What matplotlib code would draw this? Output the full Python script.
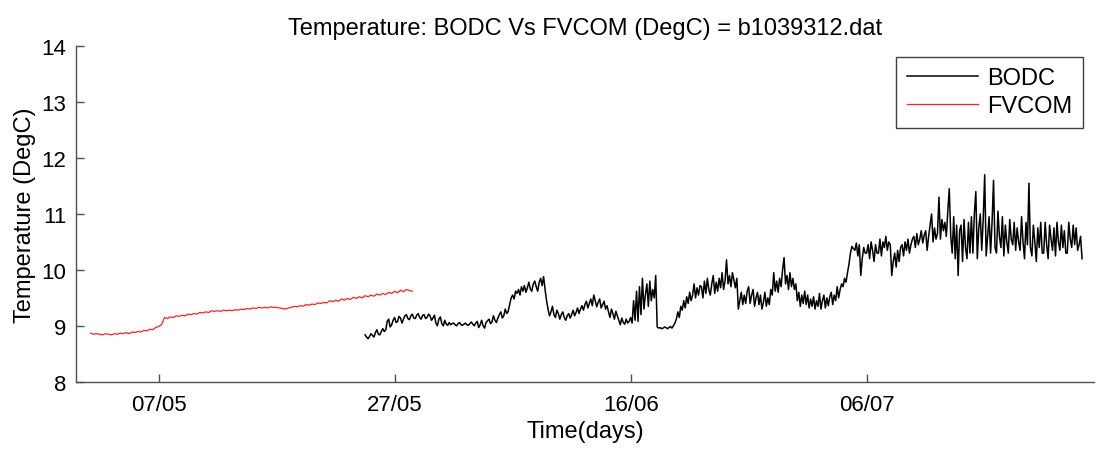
import matplotlib
matplotlib.use('Agg')
import matplotlib.pyplot as plt
import matplotlib.dates as mdates
import numpy as np
import pandas as pd

plt.rcParams['font.family'] = ['Liberation Sans', 'DejaVu Sans']

# FVCOM model temperature, 6-hourly from 01/05 06:00
fvcom_temp = [
    8.87, 8.85, 8.86,
    8.85, 8.84, 8.86, 8.85,
    8.84, 8.86, 8.85, 8.87,
    8.86, 8.88, 8.86, 8.89,
    8.88, 8.90, 8.89, 8.92,
    8.91, 8.94, 8.93, 8.97,
    8.99, 9.02, 9.15, 9.13,
    9.16, 9.15, 9.18, 9.17,
    9.19, 9.18, 9.21, 9.20,
    9.22, 9.21, 9.24, 9.23,
    9.25, 9.24, 9.27, 9.26,
    9.27, 9.26, 9.28, 9.27,
    9.28, 9.27, 9.29, 9.28,
    9.30, 9.29, 9.31, 9.30,
    9.32, 9.31, 9.33, 9.32,
    9.33, 9.32, 9.34, 9.33,
    9.33, 9.32, 9.31, 9.30,
    9.32, 9.33, 9.35, 9.34,
    9.36, 9.35, 9.38, 9.37,
    9.39, 9.38, 9.41, 9.40,
    9.42, 9.41, 9.45, 9.43,
    9.46, 9.44, 9.48, 9.46,
    9.49, 9.47, 9.51, 9.49,
    9.52, 9.50, 9.54, 9.52,
    9.55, 9.53, 9.57, 9.55,
    9.58, 9.56, 9.60, 9.58,
    9.62, 9.59, 9.64, 9.61,
    9.65, 9.63, 9.62,
]
fvcom_start = '2009-05-01 06:00'

# BODC observed temperature, 3-hourly from 24/05 12:00 (one row per day)
bodc_temp = [
    8.84, 8.80, 8.77, 8.81,
    8.86, 8.83, 8.80, 8.88, 8.93, 8.85, 8.84, 8.90,
    8.95, 8.90, 8.93, 9.08, 9.12, 8.98, 9.02, 9.10,
    9.15, 9.06, 9.08, 9.17, 9.14, 9.05, 9.12, 9.18,
    9.20, 9.13, 9.11, 9.18, 9.21, 9.14, 9.13, 9.19,
    9.22, 9.15, 9.12, 9.19, 9.20, 9.13, 9.15, 9.21,
    9.18, 9.10, 9.14, 9.19, 9.05, 9.00, 9.12, 9.16,
    9.04, 9.00, 9.10, 9.03, 9.01, 9.06, 9.02, 9.04,
    9.05, 9.02, 9.00, 9.04, 9.06, 9.02, 9.01, 9.03,
    9.05, 9.02, 9.01, 9.04, 9.07, 9.03, 9.00, 9.05,
    9.08, 8.97, 9.02, 9.10, 9.00, 8.96, 9.06, 9.09,
    9.12, 9.04, 9.07, 9.18, 9.10, 9.06, 9.14, 9.20,
    9.25, 9.14, 9.18, 9.30, 9.22, 9.26, 9.38, 9.50,
    9.55, 9.48, 9.62, 9.58, 9.65, 9.55, 9.70, 9.62,
    9.72, 9.60, 9.68, 9.78, 9.66, 9.62, 9.75, 9.80,
    9.70, 9.62, 9.78, 9.85, 9.72, 9.88, 9.65, 9.45,
    9.30, 9.18, 9.25, 9.35, 9.20, 9.15, 9.28, 9.22,
    9.12, 9.20, 9.25, 9.15, 9.10, 9.18, 9.22, 9.14,
    9.20, 9.28, 9.18, 9.24, 9.32, 9.22, 9.30, 9.36,
    9.28, 9.38, 9.44, 9.32, 9.40, 9.48, 9.36, 9.55,
    9.45, 9.34, 9.42, 9.48, 9.32, 9.38, 9.44, 9.30,
    9.36, 9.25, 9.15, 9.30, 9.22, 9.12, 9.26, 9.18,
    9.10, 9.02, 9.14, 9.06, 9.03, 9.12, 9.05, 9.08,
    9.15, 9.05, 9.45, 9.10, 9.62, 9.08, 9.70, 9.20,
    9.85, 9.30, 9.55, 9.75, 9.35, 9.80, 9.45, 9.65,
    9.50, 9.90, 8.98, 8.96, 8.97, 8.95, 8.96, 8.98,
    8.97, 8.95, 8.97, 8.99, 8.96, 9.00, 9.05, 9.12,
    9.25, 9.15, 9.35, 9.28, 9.45, 9.32, 9.52, 9.40,
    9.60, 9.45, 9.55, 9.75, 9.50, 9.68, 9.55, 9.72,
    9.70, 9.50, 9.80, 9.58, 9.85, 9.65, 9.55, 9.75,
    9.90, 9.58, 9.78, 9.62, 9.85, 9.68, 9.95, 9.65,
    9.80, 10.18, 9.75, 9.90, 9.70, 9.95, 9.82, 9.68,
    9.85, 9.30, 9.45, 9.60, 9.38, 9.55, 9.40, 9.62,
    9.70, 9.40, 9.55, 9.65, 9.35, 9.50, 9.60, 9.38,
    9.55, 9.30, 9.42, 9.60, 9.35, 9.50, 9.38, 9.65,
    9.55, 9.95, 9.62, 9.80, 9.60, 9.85, 9.70, 10.00,
    10.22, 9.75, 9.90, 9.65, 9.95, 9.70, 9.85, 9.65,
    9.75, 9.45, 9.60, 9.35, 9.55, 9.40, 9.62, 9.38,
    9.55, 9.32, 9.48, 9.35, 9.52, 9.30, 9.45, 9.35,
    9.58, 9.30, 9.45, 9.55, 9.32, 9.50, 9.36, 9.52,
    9.60, 9.38, 9.55, 9.45, 9.70, 9.50, 9.65, 9.75,
    9.70, 9.85, 9.78, 9.95, 10.10, 10.30, 10.42, 10.38,
    10.35, 10.48, 10.25, 10.45, 9.90, 10.20, 10.40, 10.30,
    10.30, 10.45, 10.20, 10.50, 10.35, 10.15, 10.45, 10.30,
    10.30, 10.55, 10.25, 10.50, 10.40, 10.60, 10.35, 10.50,
    10.45, 9.90, 10.15, 10.30, 10.05, 10.35, 10.15, 10.40,
    10.45, 10.25, 10.50, 10.35, 10.55, 10.30, 10.45, 10.55,
    10.60, 10.40, 10.65, 10.45, 10.55, 10.70, 10.48, 10.62,
    10.70, 10.35, 10.60, 10.80, 11.00, 10.50, 10.75, 10.55,
    10.65, 11.30, 10.55, 10.90, 10.70, 10.85, 10.60, 11.05,
    11.45, 10.60, 10.30, 10.95, 10.20, 10.80, 9.90, 10.70,
    10.80, 10.15, 10.90, 10.40, 10.20, 10.85, 10.30, 10.95,
    10.30, 11.00, 11.40, 10.20, 10.75, 11.00, 10.35, 10.90,
    11.70, 10.25, 10.60, 10.95, 10.30, 10.85, 11.60, 10.40,
    10.30, 11.05, 10.60, 10.40, 10.95, 10.25, 10.80, 10.50,
    10.30, 10.90, 10.55, 10.45, 10.85, 10.35, 10.75, 10.50,
    10.35, 10.95, 10.50, 10.20, 10.85, 10.45, 11.55, 10.40,
    10.25, 10.80, 10.50, 10.15, 10.75, 10.40, 10.85, 10.30,
    10.30, 10.85, 10.45, 10.20, 10.80, 10.55, 10.35, 10.75,
    10.25, 10.85, 10.50, 10.35, 10.80, 10.40, 10.70, 10.30,
    10.30, 10.85, 10.55, 10.40, 10.80, 10.45, 10.75, 10.35,
    10.45, 10.60, 10.20,
]
bodc_start = '2009-05-24 12:00'

tick_dates = ['2009-05-07', '2009-05-27', '2009-06-16', '2009-07-06']
xlim_dates = ['2009-04-30', '2009-07-25 06:00']

fvcom_time = pd.date_range(fvcom_start, periods=len(fvcom_temp), freq='6h')
bodc_time = pd.date_range(bodc_start, periods=len(bodc_temp), freq='3h')

fig = plt.figure(figsize=(11.01, 4.52), dpi=100)
ax = fig.add_axes([0.069, 0.153, 0.9245, 0.743])

ax.plot(bodc_time, bodc_temp, color='black', lw=1.1, label='BODC')
ax.plot(fvcom_time, fvcom_temp, color='#ff2020', lw=0.9, label='FVCOM')

ax.set_xlim(pd.Timestamp(xlim_dates[0]), pd.Timestamp(xlim_dates[1]))
ax.set_ylim(8, 14)
ax.set_yticks([8, 9, 10, 11, 12, 13, 14])
ax.set_xticks([pd.Timestamp(d) for d in tick_dates])
ax.xaxis.set_major_formatter(mdates.DateFormatter('%d/%m'))

# matlab look: box off, ticks inside
for s in ['top', 'right']:
    ax.spines[s].set_visible(False)
for s in ['left', 'bottom']:
    ax.spines[s].set_color('#505050')
    ax.spines[s].set_linewidth(1.0)
ax.tick_params(direction='in', length=6, width=1.0, color='#505050',
               labelsize=16, pad=7)
ax.tick_params(axis='x', pad=9)

ax.set_title('Temperature: BODC Vs FVCOM (DegC) = b1039312.dat', fontsize=17, pad=9)
ax.set_xlabel('Time(days)', fontsize=17, labelpad=3)
ax.set_ylabel('Temperature (DegC)', fontsize=17, labelpad=4)

leg = ax.legend(loc='upper right', fontsize=17, fancybox=False, framealpha=1,
                edgecolor='#404040', handlelength=3.0, borderaxespad=0.45,
                borderpad=0.45, labelspacing=0.25, handletextpad=0.4)
leg.get_frame().set_linewidth(1.0)

fig.savefig('out.png', dpi=100)
